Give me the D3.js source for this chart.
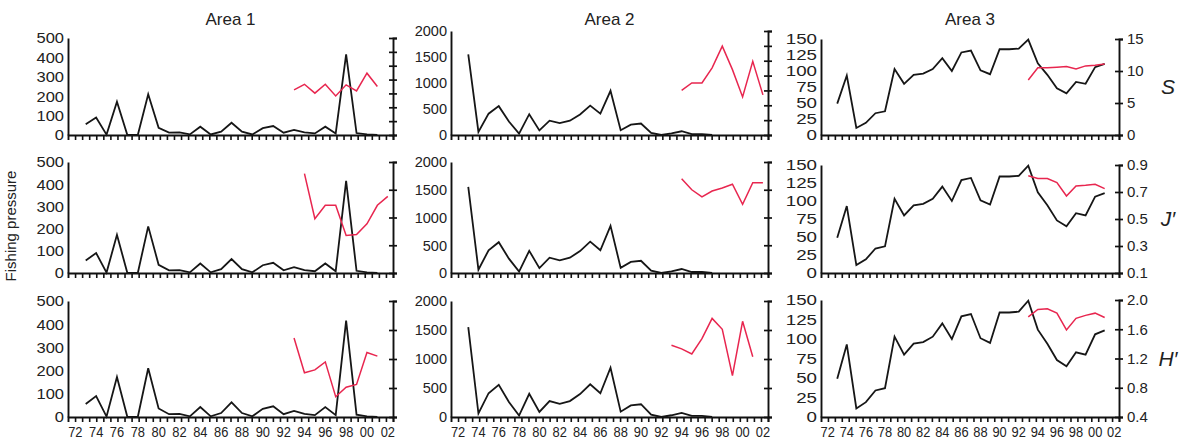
<!DOCTYPE html>
<html><head><meta charset="utf-8">
<script src="https://cdn.jsdelivr.net/npm/d3@7"></script>
<style>
body{margin:0;background:#fff;}
svg text{font-family:"Liberation Sans",Arial,Helvetica,sans-serif;fill:#222;}
</style></head><body>
<svg id="c" width="1196" height="440"></svg>
<script>
// ---------------- DATA ----------------
const areaNames = ["Area 1", "Area 2", "Area 3"];
const indexNames = ["S", "J\u2032", "H\u2032"];

const yearsA1 = [1973,1974,1975,1976,1977,1978,1979,1980,1981,1982,1983,1984,1985,1986,1987,1988,1989,1990,1991,1992,1993,1994,1995,1996,1997,1998,1999,2000,2001];
const pressureA1 = [56,90,2,172,0,0,210,37,12,13,3,43,3,17,63,17,3,35,46,12,26,13,8,43,8,415,10,3,0];

const yearsA2 = [1973,1974,1975,1976,1977,1978,1979,1980,1981,1982,1983,1984,1985,1986,1987,1988,1989,1990,1991,1992,1993,1994,1995,1996,1997];
const pressureA2 = [1550,60,410,555,258,25,400,88,275,228,275,395,565,410,850,92,200,220,42,0,30,72,18,18,0];

const yearsA3 = [1973,1974,1975,1976,1977,1978,1979,1980,1981,1982,1983,1984,1985,1986,1987,1988,1989,1990,1991,1992,1993,1994,1995,1996,1997,1998,1999,2000,2001];
const pressureA3 = [49,93,11,19,34,37,103,80,94,96,103,120,100,129,132,101,95,134,134,135,149,112,94,73,65,83,80,106,111];

const divYears9301 = [1993,1994,1995,1996,1997,1998,1999,2000,2001];
const divYears9402 = [1994,1995,1996,1997,1998,1999,2000,2001,2002];

// Species richness S
const sA1 = [16.3,18.3,15.1,18.3,14.1,18.1,15.9,22.3,17.5];
const sA2 = [15.0,17.5,17.5,22.6,29.9,22.0,12.8,24.8,13.5];
const sA3 = [8.6,10.5,10.5,10.6,10.7,10.3,10.8,10.9,11.1];
// Evenness J'
const jA1 = [0.816,0.491,0.588,0.588,0.371,0.378,0.455,0.588,0.652];
const jA2 = [0.78,0.70,0.648,0.691,0.713,0.74,0.595,0.751,0.751];
const jA3 = [0.82,0.80,0.80,0.77,0.67,0.745,0.75,0.757,0.725];
// Shannon H'
const hA1 = [1.49,1.01,1.05,1.16,0.68,0.81,0.85,1.29,1.24];
const hA2 = [1.39,1.34,1.27,1.48,1.76,1.61,0.97,1.72,1.23];
const hA3 = [1.77,1.87,1.88,1.82,1.59,1.75,1.79,1.82,1.76];

const pressureTicksA1 = [0,100,200,300,400,500];
const pressureTicksA2 = [0,500,1000,1500,2000];
const pressureTicksA3 = [0,25,50,75,100,125,150];
const sTicksA12 = [0,5,10,15,20,25,30,35];
const sTicksA3 = [0,5,10,15];
const jTicks = [0.1,0.3,0.5,0.7,0.9];
const hTicks = [0.4,0.8,1.2,1.6,2.0];
const yearLabels = [1972,1974,1976,1978,1980,1982,1984,1986,1988,1990,1992,1994,1996,1998,2000,2002];

// ---------------- LAYOUT ----------------
const svg = d3.select("#c");
const colX = [[68,393],[451,768],[821,1119]];
const rowTop = [[38,31,39],[162,162,165],[301,301,300]];
const rowBottom = [135,273,417];
const minorTickCount = [46,45,43];
const labelStretch = [1.1,0.97,1.25];
const BLACK = "#161616", RED = "#e8264f";

const pressure = [
  {years: yearsA1, values: pressureA1, ticks: pressureTicksA1},
  {years: yearsA2, values: pressureA2, ticks: pressureTicksA2},
  {years: yearsA3, values: pressureA3, ticks: pressureTicksA3}
];
const diversity = [
  [ {years: divYears9301, values: sA1, domain:[0,35], ticks:sTicksA12},
    {years: divYears9402, values: sA2, domain:[0,35], ticks:sTicksA12},
    {years: divYears9301, values: sA3, domain:[0,15], ticks:sTicksA3} ],
  [ {years: divYears9402, values: jA1, domain:[0.1,0.9], ticks:jTicks},
    {years: divYears9402, values: jA2, domain:[0.1,0.9], ticks:jTicks},
    {years: divYears9301, values: jA3, domain:[0.1,0.9], ticks:jTicks} ],
  [ {years: divYears9301, values: hA1, domain:[0.4,2.0], ticks:hTicks},
    {years: divYears9301, values: hA2, domain:[0.4,2.0], ticks:hTicks},
    {years: divYears9301, values: hA3, domain:[0.4,2.0], ticks:hTicks} ]
];
const rightFormats = [d3.format("d"), d3.format(".1f"), d3.format(".1f")];

for (let c = 0; c < 3; c++) {
  const [x0, x1] = colX[c];
  const x = d3.scaleLinear().domain([1971.3, 2002.5]).range([x0, x1]);
  svg.append("text").attr("x", (x0 + x1) / 2).attr("y", 25)
    .attr("text-anchor", "middle").style("font-size", "17px").text(areaNames[c]);

  for (let r = 0; r < 3; r++) {
    const top = rowTop[r][c], bot = rowBottom[r];
    const P = pressure[c];
    const yL = d3.scaleLinear().domain([0, d3.max(P.ticks)]).range([bot, top]);
    const D = diversity[r][c];
    const yR = d3.scaleLinear().domain(D.domain).range([bot, top]);
    const g = svg.append("g");

    // left axis
    const sx = labelStretch[c];
    const la = g.append("g").attr("transform", `translate(${x0},0)`)
      .call(d3.axisLeft(yL).tickValues(P.ticks).tickSize(0).tickPadding(0).tickFormat(d3.format("d")));
    la.select(".domain").attr("stroke", "#111").attr("stroke-width", 1.9);
    la.selectAll("text").attr("x", -4 / sx).attr("transform", `scale(${sx},1)`)
      .style("font-size", "15px").attr("fill", "#222");

    // right axis
    const ra = g.append("g").attr("transform", `translate(${x1},0)`)
      .call(d3.axisRight(yR).tickValues(D.ticks).tickSize(4).tickPadding(4)
        .tickFormat(c === 2 ? rightFormats[r] : () => ""));
    ra.select(".domain").attr("stroke", "#111").attr("stroke-width", 1.9);
    ra.selectAll(".tick line").attr("x1", -4).attr("stroke", "#111").attr("stroke-width", 1.7);
    ra.selectAll("text").style("font-size", "15px").attr("fill", "#222");

    // bottom axis with minor ticks
    const n = minorTickCount[c];
    const tx = d3.scaleLinear().domain([0, n]).range([x0, x1]);
    const ba = g.append("g").attr("transform", `translate(0,${bot})`)
      .call(d3.axisBottom(tx).tickValues(d3.range(1, n + 1)).tickSize(5).tickFormat(() => ""));
    ba.select(".domain").attr("stroke", "#111").attr("stroke-width", 1.9);
    ba.selectAll(".tick line").attr("stroke", "#111").attr("stroke-width", 1.6);

    if (r === 2) {
      const xa = g.append("g").attr("transform", `translate(0,${bot})`)
        .call(d3.axisBottom(x).tickValues(yearLabels).tickSize(0).tickPadding(10)
          .tickFormat(d => String(d % 100).padStart(2, "0")));
      xa.select(".domain").remove();
      xa.selectAll("text").style("font-size", "14px").attr("fill", "#222")
        .attr("transform", "scale(0.92,1)").attr("x", function() { return 0; });
      xa.selectAll(".tick").each(function(d) {
        d3.select(this).attr("transform", `translate(${x(d)},0)`);
      });
    }

    // fishing pressure line (black)
    const pts = P.years.map((yr, i) => [yr, P.values[i]]);
    g.append("path").datum(pts)
      .attr("fill", "none").attr("stroke", BLACK).attr("stroke-width", 1.8)
      .attr("stroke-linejoin", "miter")
      .attr("d", d3.line().x(d => x(d[0])).y(d => yL(d[1])));

    // diversity line (red)
    const dpts = D.years.map((yr, i) => [yr, D.values[i]]);
    g.append("path").datum(dpts)
      .attr("fill", "none").attr("stroke", RED).attr("stroke-width", 1.5)
      .attr("d", d3.line().x(d => x(d[0])).y(d => yR(d[1])));

    if (c === 2) {
      svg.append("text").attr("x", 1168).attr("y", (top + bot) / 2 + 7)
        .attr("text-anchor", "middle").style("font-size", "21px").style("font-style", "italic")
        .text(indexNames[r]);
    }
  }
}

svg.append("text").attr("transform", "translate(16,226) rotate(-90)")
  .attr("text-anchor", "middle").style("font-size", "15px").text("Fishing pressure");
</script>
</body></html>
